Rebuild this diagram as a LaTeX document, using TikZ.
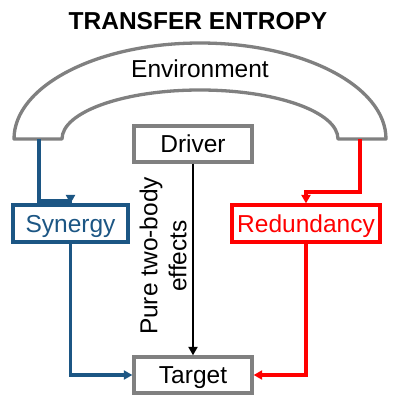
\documentclass[tikz,border=0pt]{standalone}
\usepackage{fontspec}
\setmainfont{Liberation Sans}
\usetikzlibrary{arrows.meta}
\definecolor{boxgray}{RGB}{128,128,128}
\definecolor{synblue}{RGB}{28,86,132}
\definecolor{redred}{RGB}{255,0,0}
\tikzset{
  every node/.style={font=\fontsize{24.5}{29}\selectfont},
  graybox/.style={draw=boxgray, line width=3.3pt, fill=white, inner sep=0pt,
    minimum width=118pt, minimum height=36pt, text height=17pt, text depth=0pt},
  colbox/.style={draw=#1, text=#1, line width=3.2pt, fill=white, inner sep=0pt,
    minimum height=37pt, text height=17pt, text depth=0pt},
  tip/.style={-{Triangle[length=8.5pt,width=9pt]}},
  blueline/.style={draw=synblue, line width=3.2pt, tip},
  redline/.style={draw=redred, line width=3.2pt, tip},
  blackline/.style={draw=black, line width=2.8pt, tip},
  archstyle/.style={draw=boxgray, line width=3.3pt, fill=white, line join=round}
}
\begin{document}
\begin{tikzpicture}[x=1pt,y=-1pt]
\useasboundingbox (0,0) rectangle (400,400);
\fill[white] (0,0) rectangle (400,400);
% title
\node[anchor=base, font=\fontsize{24.5}{29}\selectfont\bfseries] (title) at (198,29) {TRANSFER ENTROPY};
% environment arch
\draw[archstyle] (14,139) -- (62,139)
  arc[start angle=180, end angle=360, x radius=138, y radius=49]
  -- (386,139)
  arc[start angle=0, end angle=-180, x radius=186, y radius=96] -- cycle;
\node[anchor=base] (env) at (200,77) {Environment};
\coordinate (envL) at (39,139);
\coordinate (envR) at (360,139);
% boxes
\node[graybox] (drv) at (193,144) {Driver};
\node[graybox] (tgt) at (193,375) {Target};
\node[colbox=synblue, minimum width=115pt] (syn) at (70.5,223.5) {Synergy};
\node[colbox=redred, minimum width=148pt] (red) at (306,223.5) {Redundancy};
% connectors
\draw[blueline] (envL) -- (39,201) -| (syn.north);
\draw[redline] (envR) -- (360,192) -| (red.north);
\draw[blueline] (syn.south) |- (tgt.west);
\draw[redline] (red.south) |- (tgt.east);
\draw[blackline] (drv.south) -- (tgt.north);
\node[rotate=90, align=center, inner sep=0pt] (pure) at (163,256) {Pure two-body\\effects};
\end{tikzpicture}
\end{document}
